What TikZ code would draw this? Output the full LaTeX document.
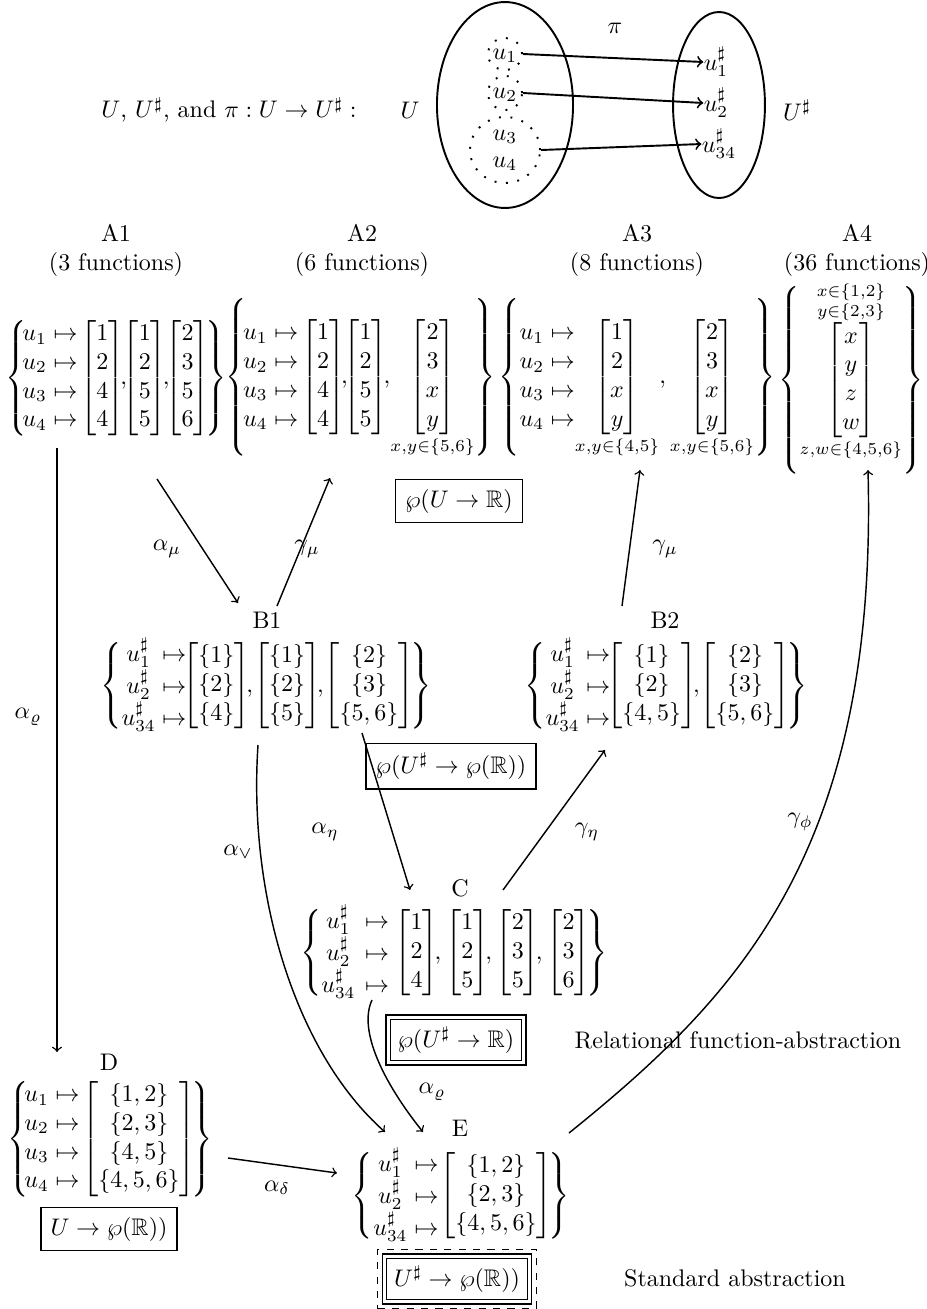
\documentclass[tikz,border=0pt]{standalone}
\usepackage{amsmath,amssymb}
\usetikzlibrary{shapes.geometric,fit}
\newcommand{\bm}[1]{{\mkern-3mu\begin{bmatrix}#1\end{bmatrix}\mkern-3mu}}
\begin{document}
\begin{tikzpicture}[x=0.41667pt,y=-0.41667pt,
  every node/.style={inner sep=0pt},
  ttl/.style={align=center},
  frm/.style={draw, semithick, inner sep=4pt},
  dfrm/.style={draw, semithick, double, double distance=1.2pt, inner sep=4pt},
  dashfrm/.style={draw, semithick, dashed, inner sep=2.5pt},
  arr/.style={->, semithick},
  bigell/.style={draw, ellipse, thick},
  grp/.style={draw, ellipse, loosely dotted, thick, inner sep=0pt},
  parr/.style={->, thick},
]
\useasboundingbox (0,0) rectangle (927,1309);

% ---------- top: U, U#, pi ----------
\node (title) at (229,110) {$U$, $U^\sharp$, and $\pi : U\to U^\sharp :$};
\node (Ulab) at (410,110) {$U$};
\node (Uslab) at (797,110) {$U^\sharp$};
\node (pilab) at (615,28) {$\pi$};
\node[bigell, minimum width=56.7pt, minimum height=85.8pt] (Uell) at (505,105) {};
\node[bigell, minimum width=38.3pt, minimum height=77.5pt] (Usell) at (719,105) {};
\node[grp, minimum width=14.2pt, minimum height=13.3pt] (g1) at (505,54) {};
\node[grp, minimum width=14.2pt, minimum height=14.2pt] (g2) at (505,93) {};
\node[grp, minimum width=29.2pt, minimum height=27.5pt] (g34) at (505,150) {};
\node (u1) at (505,56) {$u_1$};
\node (u2) at (505,95) {$u_2$};
\node (u3) at (505,137) {$u_3$};
\node (u4) at (505,164) {$u_4$};
\node (v1) at (716,62) {$u_1^\sharp$};
\node (v2) at (716,103) {$u_2^\sharp$};
\node (v34) at (719,144) {$u_{34}^\sharp$};
\draw[parr] (g1.east) -- (v1.west);
\draw[parr] (g2.east) -- (v2.west);
\draw[parr] (g34.east) -- (v34.west);

% ---------- titles of A row ----------
\node[ttl] (tA1) at (116,250) {A1\\(3 functions)};
\node[ttl] (tA2) at (362,250) {A2\\(6 functions)};
\node[ttl] (tA3) at (637,250) {A3\\(8 functions)};
\node[ttl] (tA4) at (857,250) {A4\\(36 functions)};

% ---------- A row ----------
\node (A1) at (116,378) {$\left\{\!{\begin{matrix}u_1\mapsto\\u_2\mapsto\\u_3\mapsto\\u_4\mapsto\end{matrix}}\;\bm{1\\2\\4\\4},\!\bm{1\\2\\5\\5},\!\bm{2\\3\\5\\6}\right\}$};
\node (A2) at (361,378) {$\left\{\!{\begin{matrix}u_1\mapsto\\u_2\mapsto\\u_3\mapsto\\u_4\mapsto\end{matrix}}\;\bm{1\\2\\4\\4},\!\bm{1\\2\\5\\5},\!\underset{x,y\in\{5,6\}}{\bm{2\\3\\x\\y}}\right\}$};
\node (A3) at (637,378) {$\left\{\begin{matrix}u_1\mapsto\\u_2\mapsto\\u_3\mapsto\\u_4\mapsto\end{matrix}\underset{x,y\in\{4,5\}}{\bm{1\\2\\x\\y}},\underset{x,y\in\{5,6\}}{\bm{2\\3\\x\\y}}\right\}$};
\node (A4) at (851,378) {$\left\{\overset{\substack{x\in\{1,2\}\\y\in\{2,3\}}}{\underset{z,w\in\{4,5,6\}}{\bm{x\\y\\z\\w}}}\right\}$};
\node[frm] (boxA) at (459,501) {$\wp(U\to\mathbb{R})$};

% ---------- B row ----------
\node (tB1) at (267,620) {B1};
\node (B1) at (266,686) {$\left\{{\begin{array}{@{}c@{}l@{}}u_1^\sharp&{}\mapsto\\u_2^\sharp&{}\mapsto\\u_{34}^\sharp&{}\mapsto\end{array}}\bm{\{1\}\\\{2\}\\\{4\}},\bm{\{1\}\\\{2\}\\\{5\}},\bm{\{2\}\\\{3\}\\\{5,6\}}\right\}$};
\node (tB2) at (665,620) {B2};
\node (B2) at (666,686) {$\left\{{\begin{array}{@{}c@{}l@{}}u_1^\sharp&{}\mapsto\\u_2^\sharp&{}\mapsto\\u_{34}^\sharp&{}\mapsto\end{array}}\bm{\{1\}\\\{2\}\\\{4,5\}},\bm{\{2\}\\\{3\}\\\{5,6\}}\right\}$};
\node[frm] (boxB) at (451,766) {$\wp(U^\sharp\to\wp(\mathbb{R}))$};

% ---------- C ----------
\node (tC) at (460,888) {C};
\node (C) at (454,953) {$\left\{{\begin{array}{@{}c@{\hspace{4pt}}c@{\hspace{4pt}}}u_1^\sharp&\mapsto\\u_2^\sharp&\mapsto\\u_{34}^\sharp&\mapsto\end{array}}\bm{1\\2\\4},\,\bm{1\\2\\5},\,\bm{2\\3\\5},\,\bm{2\\3\\6}\right\}$};
\node[dfrm] (boxC) at (456,1040) {$\wp(U^\sharp\to\mathbb{R})$};
\node (rel) at (738,1040) {Relational function-abstraction};

% ---------- D ----------
\node (tD) at (109,1062) {D};
\node (D) at (110,1139) {$\left\{\!{\begin{matrix}u_1\mapsto\\u_2\mapsto\\u_3\mapsto\\u_4\mapsto\end{matrix}}\;\bm{\{1,2\}\\\{2,3\}\\\{4,5\}\\\{4,5,6\}}\right\}$};
\node[frm] (boxD) at (109,1229) {$U\to\wp(\mathbb{R}))$};

% ---------- E ----------
\node (tE) at (460,1128) {E};
\node (E) at (461,1196) {$\left\{{\begin{array}{@{}c@{\hspace{3pt}}c@{\hspace{2pt}}}u_1^\sharp&\mapsto\\u_2^\sharp&\mapsto\\u_{34}^\sharp&\mapsto\end{array}}\bm{\{1,2\}\\\{2,3\}\\\{4,5,6\}}\right\}$};
\node[dfrm] (boxE) at (457,1279) {$U^\sharp\to\wp(\mathbb{R}))$};
\node[dashfrm, fit=(boxE)] (boxEo) {};
\node (std) at (735,1278) {Standard abstraction};

% ---------- connectors ----------
\draw[arr] ([shift={(41,101)}]A1.center) -- ([shift={(-28,-83)}]B1.center);
\draw[arr] ([shift={(11,-80)}]B1.center) -- ([shift={(-31,100)}]A2.center);
\draw[arr] ([shift={(-59,70)}]A1.center) -- ([shift={(-53,-87)}]D.center);
\draw[arr] ([shift={(-44,-80)}]B2.center) -- ([shift={(3,92)}]A3.center);
\draw[arr] ([shift={(108,-63)}]E.center) .. controls +(170,-137) and +(10,380) .. ([shift={(17,92)}]A4.center);
\draw[arr] ([shift={(96,47)}]B1.center) -- ([shift={(-44,-63)}]C.center);
\draw[arr] ([shift={(49,-63)}]C.center) -- ([shift={(-61,64)}]B2.center);
\draw[arr] ([shift={(-8,59)}]B1.center) .. controls +(-10,150) and +(-90,-80) .. ([shift={(-76,-64)}]E.center);
\draw[arr] ([shift={(-82,47)}]C.center) .. controls +(-14,30) and +(-40,-50) .. ([shift={(-38,-64)}]E.center);
\draw[arr] ([shift={(118,19)}]D.center) -- ([shift={(-124,-23)}]E.center);

% ---------- connector labels ----------
\node (lamu) at (167,549) {$\alpha_\mu$};
\node (lgmu1) at (307,549) {$\gamma_\mu$};
\node (lrho1) at (28,717) {$\alpha_\varrho$};
\node (lgmu2) at (665,549) {$\gamma_\mu$};
\node (lgphi) at (800,822) {$\gamma_\phi$};
\node (leta) at (325,832) {$\alpha_\eta$};
\node (lgeta) at (587,832) {$\gamma_\eta$};
\node (lvee) at (238,852) {$\alpha_\vee$};
\node (lrho2) at (432,1092) {$\alpha_\varrho$};
\node (ldelta) at (277,1188) {$\alpha_\delta$};
\end{tikzpicture}
\end{document}
